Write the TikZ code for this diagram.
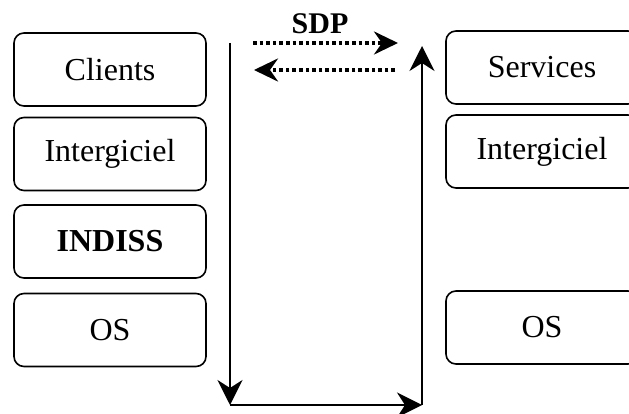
\documentclass[tikz,border=0pt]{standalone}
\usepackage{fontspec}
\setmainfont{Liberation Serif}
\usepackage{xcolor}
\usetikzlibrary{arrows.meta}
\tikzset{
	layer/.style={draw, line width=1.6pt, rounded corners=10pt, minimum width=192pt, minimum height=73pt, inner sep=0pt, font=\fontsize{32}{36}\selectfont},
	flow/.style={line width=1.8pt, -{Stealth[length=25pt, width=25pt, inset=8pt]}},
	sdp/.style={line width=3.6pt, dash pattern=on 3.6pt off 3pt, -{Stealth[length=24pt, width=23pt, inset=8pt]}}
}
\begin{document}
\begin{tikzpicture}[x=1pt, y=-1pt]
		\useasboundingbox (0,0) rectangle (629,414);
		\clip (0,0) rectangle (629,414);
		\node[layer] (cli) at (110,69.5) {Clients};
		\node[layer] (midl) at (110,154) {Intergiciel};
		\node[layer] (indiss) at (110,241.5) {\textbf{INDISS}};
		\node[layer] (osl) at (110,330) {OS};
		\node[layer] (srv) at (542,67.5) {Services};
		\node[layer] (midr) at (542,151.5) {Intergiciel};
		\node[layer] (osr) at (542,327.5) {OS};
		\coordinate (top l) at (230,43);
		\coordinate (bot l) at (230,405);
		\coordinate (bot r) at (422,405);
		\coordinate (top r) at (422,46);
		\draw[flow] (top l) -- (bot l);
		\draw[flow] (bot l) -- (bot r);
		\draw[flow] (bot r) -- (top r);
		\coordinate (req a) at (253,43);
		\coordinate (req b) at (398,43);
		\coordinate (rep a) at (395,70);
		\coordinate (rep b) at (254,70);
		\draw[sdp] (req a) -- (req b);
		\draw[sdp] (rep a) -- (rep b);
		\node[font=\fontsize{30}{34}\selectfont\bfseries] (lbl) at (320,24) {SDP};
	\end{tikzpicture}
\end{document}
